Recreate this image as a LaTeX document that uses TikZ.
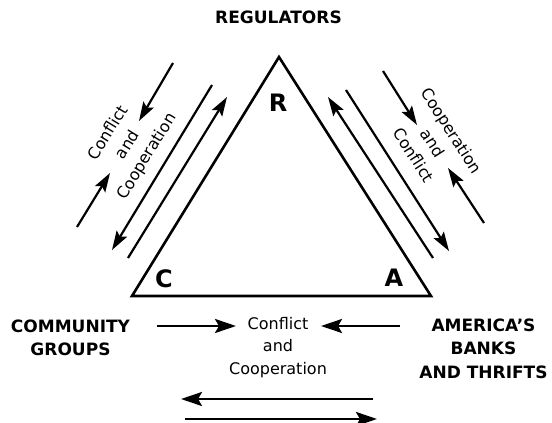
\documentclass[tikz,border=0pt]{standalone}
\usepackage{fontspec}
\setmainfont{DejaVu Sans}
\usetikzlibrary{arrows.meta}
\begin{document}
\begin{tikzpicture}[x=1pt,y=-1pt,
  tri/.style={line width=2.6pt, line join=miter},
  arr/.style={line width=2.2pt, -{Stealth[length=19pt,width=12pt,inset=3.5pt]}},
  bigarr/.style={line width=2.8pt, -{Stealth[length=21pt,width=14pt,inset=4pt]}},
  party/.style={font=\fontsize{17}{23.5}\selectfont\bfseries, align=center, inner sep=0pt},
  corner/.style={font=\fontsize{24}{24}\selectfont\bfseries, inner sep=0pt},
  relation/.style={font=\fontsize{16}{22.5}\selectfont, align=center, inner sep=0pt}]
\useasboundingbox (0,0) rectangle (552,423);

% triangle
\coordinate (C) at (132,296);
\coordinate (R) at (279,57);
\coordinate (A) at (431,296);
\draw[tri] (C) -- (R) -- (A) -- cycle;

\node[corner] (rl) at (278,103) {R};
\node[corner] (cl) at (164,279) {C};
\node[corner] (al) at (394,278) {A};

% titles
\node[party] (reg) at (278.5,17) {REGULATORS};
\node[party] (com) at (70.5,337.6) {COMMUNITY\\GROUPS};
\node[party] (ame) at (483.5,348.7) {AMERICA’S\\BANKS\\AND THRIFTS};

% left side
\coordinate (l1s) at (128,258); \coordinate (l1e) at (227,97);
\coordinate (l2s) at (212,85);  \coordinate (l2e) at (112,250);
\coordinate (l3s) at (173,63);  \coordinate (l3e) at (139,121);
\coordinate (l4s) at (77,227);  \coordinate (l4e) at (110,173);
\draw[arr] (l1s) -- (l1e);
\draw[arr] (l2s) -- (l2e);
\draw[arr] (l3s) -- (l3e);
\draw[arr] (l4s) -- (l4e);
\node[relation, rotate=58.6] (lt) at (128,145) {Conflict\\and\\Cooperation};

% right side
\coordinate (r1s) at (433,258); \coordinate (r1e) at (328,97);
\coordinate (r2s) at (346,90);  \coordinate (r2e) at (449,251);
\coordinate (r3s) at (383,71);  \coordinate (r3e) at (417,125);
\coordinate (r4s) at (484,223); \coordinate (r4e) at (448,168);
\draw[arr] (r1s) -- (r1e);
\draw[arr] (r2s) -- (r2e);
\draw[arr] (r3s) -- (r3e);
\draw[arr] (r4s) -- (r4e);
\node[relation, rotate=-57.4] (rt) at (433,143) {Cooperation\\and\\Conflict};

% bottom
\node[relation] (bt) at (278,347.5) {Conflict\\and\\Cooperation};
\coordinate (b1s) at (157,326); \coordinate (b1e) at (236,326);
\coordinate (b2s) at (400,326); \coordinate (b2e) at (321,326);
\draw[bigarr] (b1s) -- (b1e);
\draw[bigarr] (b2s) -- (b2e);
\coordinate (b3s) at (373,399); \coordinate (b3e) at (181,399);
\coordinate (b4s) at (185,419); \coordinate (b4e) at (377,419);
\draw[bigarr] (b3s) -- (b3e);
\draw[bigarr] (b4s) -- (b4e);
\end{tikzpicture}
\end{document}
